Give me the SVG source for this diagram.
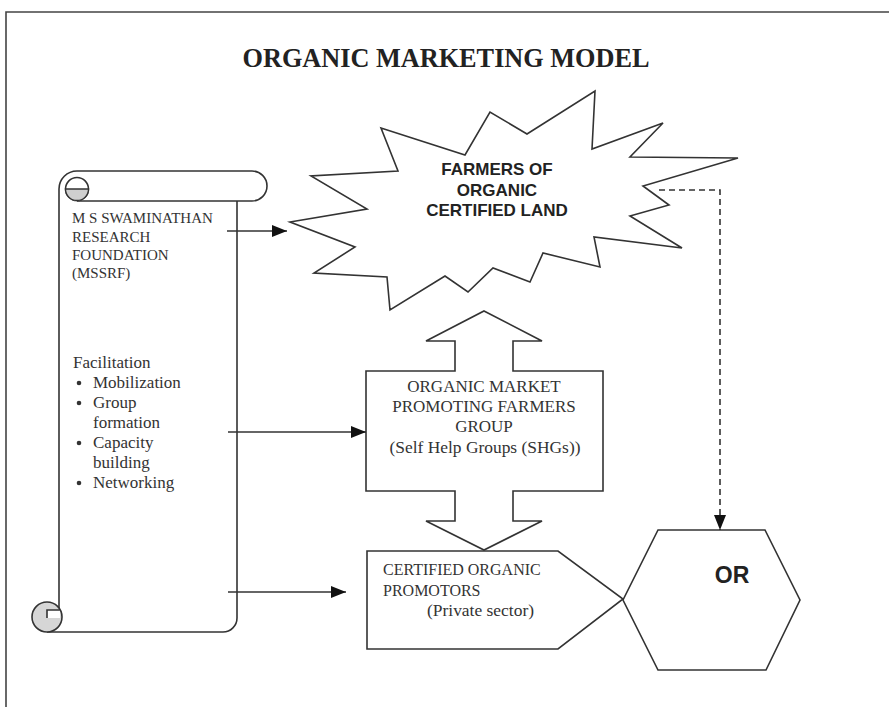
<svg xmlns="http://www.w3.org/2000/svg" width="889" height="707" viewBox="0 0 889 707">
<style>
.ln{fill:none;stroke:#333;stroke-width:1.6}
.sh{fill:#fff;stroke:#333;stroke-width:1.6;stroke-linejoin:miter}
.tr{font-family:"Liberation Serif","Times New Roman",serif;fill:#333}
.ta{font-family:"Liberation Sans",Arial,sans-serif;font-weight:bold;fill:#222}
</style>
<defs>
<marker id="arr" markerUnits="userSpaceOnUse" markerWidth="15" markerHeight="12" refX="15" refY="6" orient="auto">
<path d="M0,0 L15,6 L0,12 Z" fill="#111"/>
</marker>
</defs>
<rect width="889" height="707" fill="#fff"/>
<path d="M6,707 V12 H889" fill="none" stroke="#444" stroke-width="1.6"/>
<text x="446" y="67" text-anchor="middle" class="tr" style="font-weight:bold;fill:#222" font-size="27" textLength="407" lengthAdjust="spacingAndGlyphs">ORGANIC MARKETING MODEL</text>

<g id="mssrf">
<path class="ln" d="M59,189 A18,18 0 0 1 77,171 H252 A15,15 0 0 1 252,201 H77"/>
<circle cx="77" cy="189" r="11.5" fill="#fff" stroke="#333" stroke-width="1.6"/>
<path d="M65.5,189 A11.5,11.5 0 0 0 88.5,189 Z" fill="#cfcfcf" stroke="#333" stroke-width="1.3"/>
<path class="ln" d="M59,189 V617"/>
<path class="ln" d="M237,201 V618 A14,14 0 0 1 223,632 H47"/>
<circle cx="47" cy="617" r="15" fill="#d6d6d6" stroke="#333" stroke-width="1.6"/>
<path d="M47,618 V610 H60 V618 Z" fill="#fff" stroke="none"/>
<path class="ln" d="M47,618 V610 H60"/>
<text class="tr" font-size="15" x="72" y="223">M S SWAMINATHAN</text>
<text class="tr" font-size="15" x="72" y="242">RESEARCH</text>
<text class="tr" font-size="15" x="72" y="260">FOUNDATION</text>
<text class="tr" font-size="15" x="72" y="278">(MSSRF)</text>
<text class="tr" font-size="17" x="73" y="368">Facilitation</text>
<g fill="#333">
<circle cx="79" cy="383" r="2.3"/>
<circle cx="79" cy="403" r="2.3"/>
<circle cx="79" cy="443" r="2.3"/>
<circle cx="79" cy="483" r="2.3"/>
</g>
<text class="tr" font-size="17" x="93" y="388">Mobilization</text>
<text class="tr" font-size="17" x="93" y="408">Group</text>
<text class="tr" font-size="17" x="93" y="428">formation</text>
<text class="tr" font-size="17" x="93" y="448">Capacity</text>
<text class="tr" font-size="17" x="93" y="468">building</text>
<text class="tr" font-size="17" x="93" y="488">Networking</text>
</g>

<g id="farmers">
<path class="sh" d="M290,222 L367,209 L311,176 L398,171 L381,128 L465,155 L490,112 L527,134 L595,91 L592,149 L663,123 L630,157 L738,158 L643,186 L669,205 L630,216 L682,248 L594,237 L600,267 L543,253 L530,282 L493,268 L468,292 L445,276 L390,310 L387,277 L314,273 L355,247 Z"/>
<text class="ta" font-size="17" text-anchor="middle" x="497" y="175">FARMERS OF</text>
<text class="ta" font-size="17" text-anchor="middle" x="497" y="196">ORGANIC</text>
<text class="ta" font-size="17" text-anchor="middle" x="497" y="216">CERTIFIED LAND</text>
</g>

<g id="shg">
<path class="sh" d="M484,311 L542,341 L513,341 L513,371 L603,371 L603,491 L513,491 L513,521 L542,521 L484,550 L426,521 L455,521 L455,491 L366,491 L366,371 L455,371 L455,341 L426,341 Z"/>
<text class="tr" font-size="17" text-anchor="middle" x="484" y="392">ORGANIC MARKET</text>
<text class="tr" font-size="17" text-anchor="middle" x="484" y="412">PROMOTING FARMERS</text>
<text class="tr" font-size="17" text-anchor="middle" x="484" y="432">GROUP</text>
<text class="tr" font-size="17" text-anchor="middle" x="485" y="453" textLength="191" lengthAdjust="spacingAndGlyphs">(Self Help Groups (SHGs))</text>
</g>

<g id="promotors">
<path class="sh" d="M367,551 H558 L623,599 L558,649 H367 Z"/>
<text class="tr" font-size="16" x="383" y="575">CERTIFIED ORGANIC</text>
<text class="tr" font-size="16" x="383" y="596">PROMOTORS</text>
<text class="tr" font-size="16" x="427" y="616" textLength="107" lengthAdjust="spacingAndGlyphs">(Private sector)</text>
</g>

<g id="or">
<path class="sh" d="M658,530 H765 L800,600 L766,670 H658 L623,600 Z"/>
<text class="ta" font-size="23" text-anchor="middle" x="732" y="583">OR</text>
</g>

<g id="connectors">
<path class="ln" d="M227,231 H287" marker-end="url(#arr)"/>
<path class="ln" d="M228,432 H366" marker-end="url(#arr)"/>
<path class="ln" d="M228,592 H346" marker-end="url(#arr)"/>
<path class="ln" d="M659,190 H720 V530" stroke-dasharray="6,4" marker-end="url(#arr)"/>
</g>
</svg>
